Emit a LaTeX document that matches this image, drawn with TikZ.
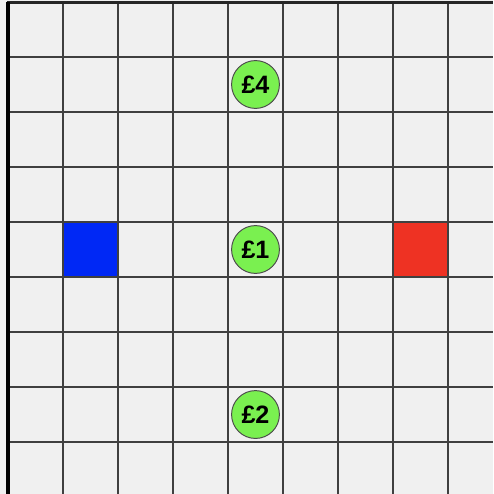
\documentclass[tikz,border=0pt]{standalone}
\usepackage{fontspec}
\setsansfont{Liberation Sans}
\usepackage{xcolor}
\usepackage{tikz}

\definecolor{floor}{RGB}{240,240,240}
\definecolor{blueagent}{RGB}{0,40,245}
\definecolor{redagent}{RGB}{238,50,35}
\definecolor{coingreen}{RGB}{122,240,80}

\tikzset{
  gridline/.style={line width=0.65pt,black!75},
  coin/.style={circle,draw=black!70,line width=0.5pt,fill=coingreen,minimum size=0.87cm,inner sep=0pt,font=\sffamily\bfseries\fontsize{13}{15}\selectfont}
}

\begin{document}
\begin{tikzpicture}[x=1cm,y=-1cm]
   % Board
   \useasboundingbox (-0.145,-0.036) rectangle (8.818,8.945);
   \fill[floor] (-0.145,-0.036) rectangle (8.818,8.945);

   % Agents
   \fill[blueagent] (1,4) rectangle (2,5);
   \fill[redagent] (7,4) rectangle (8,5);

   % Grid
   \foreach \i in {1,...,8}
      \draw[gridline] (\i,0) -- (\i,8.945);
   \foreach \j in {1,...,8}
      \draw[gridline] (0,\j) -- (8.818,\j);
   \draw[line width=1.1pt,black!85] (-0.02,0.01) -- (8.818,0.01);
   \draw[line width=1.6pt,black] (0,0) -- (0,8.945);

   % Coins
   \node[coin] (coinfour) at (4.5,1.5) {£4};
   \node[coin] (coinone) at (4.5,4.5) {£1};
   \node[coin] (cointwo) at (4.5,7.5) {£2};
\end{tikzpicture}
\end{document}
